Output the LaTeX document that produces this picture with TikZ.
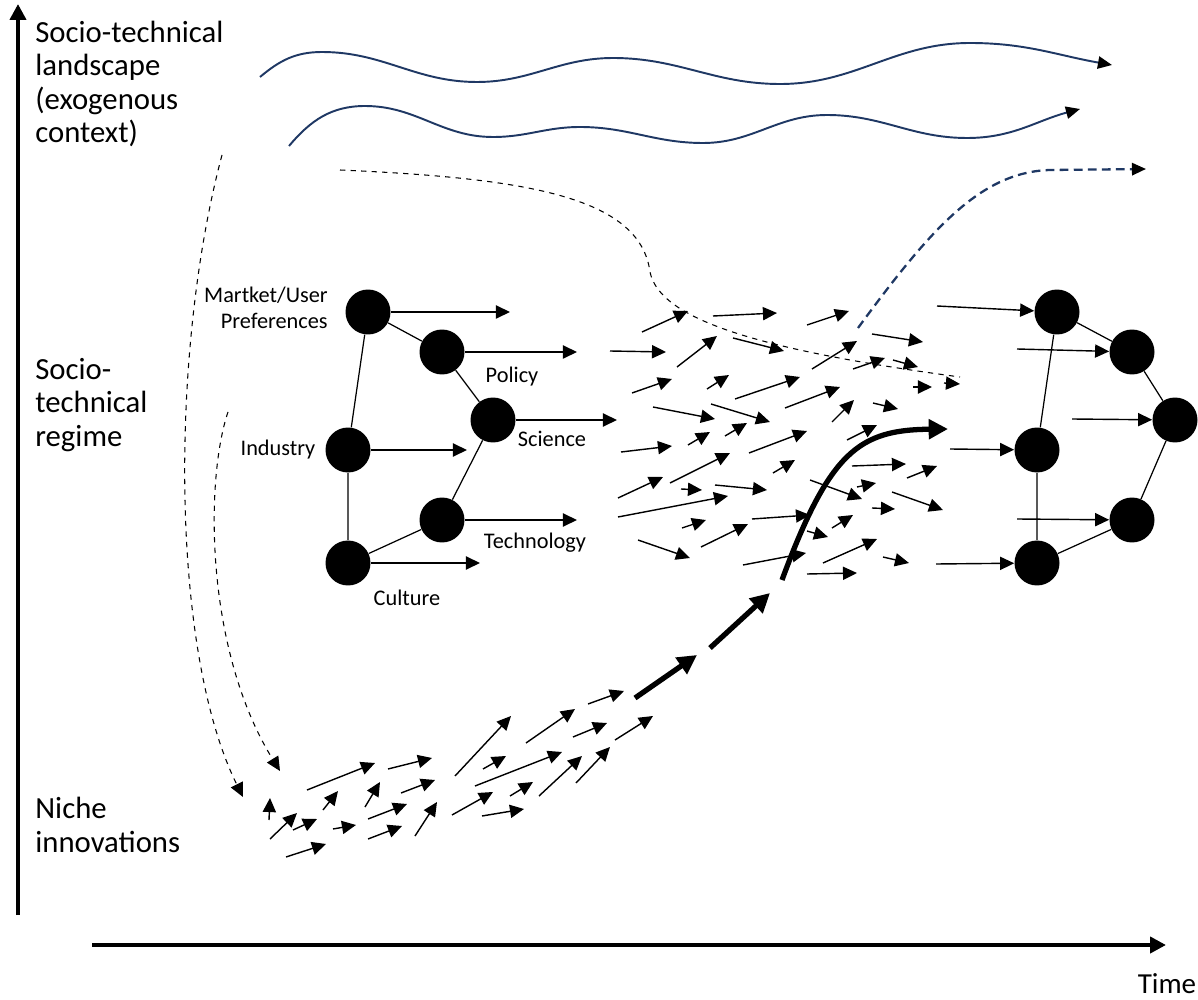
\documentclass[tikz,border=0pt]{standalone}
\usepackage{fontspec}
\setmainfont{Carlito}
\usetikzlibrary{arrows.meta}
\definecolor{navy}{RGB}{31,56,100}

\tikzset{
  actor/.style={circle, fill=black, minimum size=0.9cm, inner sep=0pt},
  lbl/.style={font=\fontsize{12.7}{15}\selectfont, inner sep=0pt},
  axislbl/.style={font=\fontsize{17.5}{19}\selectfont, align=left, inner sep=0pt},
  flow/.style={-{Triangle[length=8pt,width=7.5pt]}, line width=0.8pt},
  push/.style={-{Triangle[length=11pt,width=11pt]}, line width=3pt},
  wave/.style={navy, line width=1.1pt, -{Triangle[length=8pt,width=7pt,color=black]}},
  axis/.style={-{Triangle[length=9pt,width=9pt]}, line width=2.8pt},
}

\begin{document}
\begin{tikzpicture}[x=0.02cm, y=-0.02cm]
\useasboundingbox (0,0) rectangle (1198,1000);

% axes
\draw[axis] (18,915) -- (18,4);
\draw[axis] (92,945) -- (1166,945);
\node[axislbl, font=\fontsize{16.5}{19}\selectfont] (time) at (1167,984) {Time};

\node[axislbl, anchor=west] (land) at (35,84) {Socio-technical\\landscape\\(exogenous\\context)};
\node[axislbl, anchor=west] (reg) at (35,405) {Socio-\\technical\\regime};
\node[axislbl, anchor=west] (niche) at (35,825) {Niche\\innovations};

% landscape
\draw[wave] (260,77) to[out=40,in=180] (322,52) to[out=0,in=180] (477,82) to[out=0,in=180] (613,58)
  to[out=0,in=180] (780,84) to[out=0,in=180] (970,43) to[out=0,in=170] (1112,65);
\draw[wave] (289,146) to[out=50,in=180] (365,106) to[out=0,in=180] (493,137) to[out=0,in=180] (580,127)
  to[out=0,in=180] (703,143) to[out=0,in=180] (827,115) to[out=0,in=180] (967,138) to[out=0,in=195] (1080,109);
\draw[navy, line width=1.3pt, dash pattern=on 5pt off 3pt, -{Triangle[length=8pt,width=7pt,color=black]}]
  (858,328) .. controls (930,230) and (980,172) .. (1050,170) -- (1146,169);
\draw[dashed, line width=0.6pt] (340,170) .. controls (520,178) and (640,195) .. (650,272)
  .. controls (660,320) and (760,350) .. (960,377);

% pressure on regime and niches
\draw[dashed, line width=0.6pt, -{Triangle[length=8pt,width=7.5pt]}] (222,155) .. controls (170,350) and (170,650) .. (243,797);
\draw[dashed, line width=0.6pt, -{Triangle[length=8pt,width=7.5pt]}] (228,412) .. controls (205,480) and (205,650) .. (280,771);

% regime network (left)
\node[actor] (mkt) at (368,312) {};
\node[actor] (pol) at (442,352) {};
\node[actor] (sci) at (493,420) {};
\node[actor] (ind) at (348,450) {};
\node[actor] (tec) at (442,520) {};
\node[actor] (cul) at (348,563) {};
\draw[line width=0.7pt] (mkt) -- (pol) -- (sci) -- (tec) -- (cul) -- (ind) -- (mkt);

\node[lbl, anchor=east, align=right] (mktL) at (328,308) {Martket/User\\Preferences};
\node[lbl] (polL) at (512,377) {Policy};
\node[lbl] (sciL) at (552,439) {Science};
\node[lbl] (indL) at (278,450) {Industry};
\node[lbl] (tecL) at (535,543) {Technology};
\node[lbl] (culL) at (407,598) {Culture};

\coordinate (mktA) at (510,312);
\coordinate (polA) at (577,352);
\coordinate (sciA) at (617,420);
\coordinate (indA) at (467,450);
\coordinate (tecA) at (577,520);
\coordinate (culA) at (480,563);
\foreach \n in {mkt,pol,sci,ind,tec,cul}
  \draw[flow] (\n.east) -- (\n A);

% regime network (right)
\node[actor] (mktR) at (1057,312) {};
\node[actor] (polR) at (1132,352) {};
\node[actor] (sciR) at (1175,420) {};
\node[actor] (indR) at (1037,450) {};
\node[actor] (tecR) at (1132,520) {};
\node[actor] (culR) at (1037,563) {};
\draw[line width=0.7pt] (mktR) -- (polR) -- (sciR) -- (tecR) -- (culR) -- (indR) -- (mktR);

\coordinate (mktB) at (937,306);
\coordinate (polB) at (1017,349);
\coordinate (sciB) at (1072,419);
\coordinate (indB) at (950,449);
\coordinate (tecB) at (1017,519);
\coordinate (culB) at (936,564);
\foreach \n in {mkt,pol,sci,ind,tec,cul}
  \draw[flow] (\n B) -- (\n R);

% niche innovations
\foreach \xa/\ya/\xb/\yb in {269/820/270/798, 270/839/297/813, 293/830/317/819, 286/857/326/844,
  323/810/338/791, 307/790/375/763, 333/829/356/825, 365/807/380/782, 368/819/407/804,
  368/839/402/826, 388/769/432/758, 401/793/435/780, 415/836/437/802, 455/776/511/716,
  483/769/506/756, 475/786/562/752, 452/815/493/792, 482/816/524/809, 510/796/533/782,
  539/796/582/756, 526/743/575/709, 573/737/607/723, 576/783/610/747, 588/704/624/691,
  615/740/653/716}
  \draw[flow] (\xa,\ya) -- (\xb,\yb);

% regime in flux
\foreach \xa/\ya/\xb/\yb in {642/332/688/311, 713/316/777/313, 610/351/666/352, 677/367/717/336,
  733/338/784/351, 632/393/672/379, 707/389/729/375, 735/399/800/377, 653/407/715/419,
  711/404/770/422, 785/408/840/387, 688/445/710/432, 725/436/747/423, 621/452/672/446,
  749/453/807/431, 618/498/663/477, 670/483/730/453, 681/489/702/490, 715/485/767/490,
  618/517/728/496, 773/473/795/460, 682/528/706/520, 701/547/748/524, 638/540/690/558,
  752/519/810/515, 743/565/806/553, 807/325/849/311, 872/334/923/342, 812/369/857/341,
  853/369/885/358, 893/360/918/367, 913/387/932/387, 944/383/960/384, 832/422/854/400,
  873/403/898/409, 847/440/877/425, 852/466/906/464, 907/478/937/466, 810/480/862/499,
  857/487/876/483, 892/492/943/510, 872/508/895/509, 807/531/828/537, 832/528/853/515,
  823/563/877/539, 883/557/909/563, 807/574/857/573}
  \draw[flow] (\xa,\ya) -- (\xb,\yb);

% breakthrough
\draw[push] (635,698) -- (697,655);
\draw[push] (710,648) -- (770,593);
\draw[push] (782,580) .. controls (830,450) and (860,430) .. (948,429);
\end{tikzpicture}
\end{document}
